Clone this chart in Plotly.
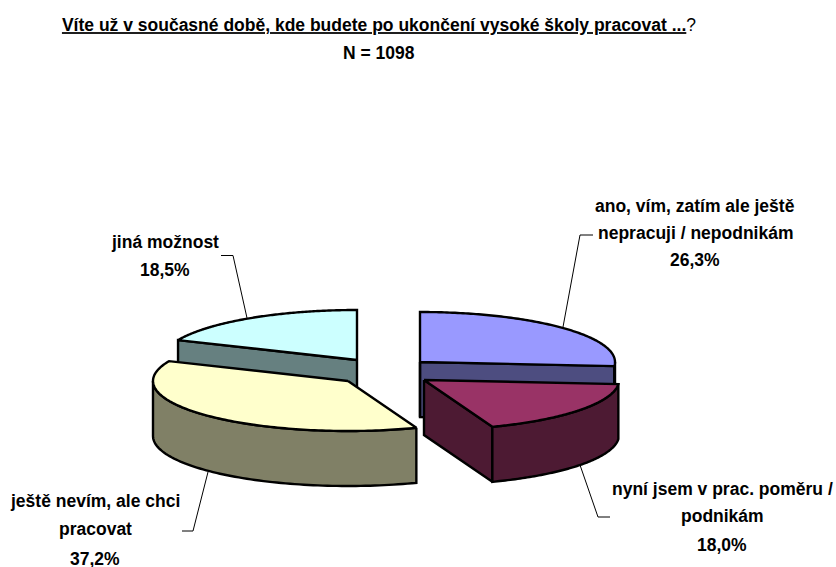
import numpy as np
import plotly.graph_objects as go

# Data
categories = ["ano, vím, zatím ale ještě nepracuji / nepodnikám",
              "nyní jsem v prac. poměru / podnikám",
              "ještě nevím, ale chci pracovat",
              "jiná možnost"]
values = [26.3, 18.0, 37.2, 18.5]
title_main = "Víte už v současné době, kde budete po ukončení vysoké školy pracovat ..."
n_text = "N = 1098"

# Styles and layout
top_colors = ["#9999FF", "#993366", "#FFFFCC", "#CCFFFF"]
side_colors = ["#4D4D80", "#4D1A33", "#808066", "#668080"]
centers = [(420, 362), (424, 380), (348, 381), (357, 360)]
RX, RY, DEPTH = 195, 50, 55
FONT = "Liberation Sans"
FS = 17.5
label_lines = [["ano, vím, zatím ale ještě", "nepracuji / nepodnikám"],
               ["nyní jsem v prac. poměru /", "podnikám"],
               ["ještě nevím, ale chci", "pracovat"],
               ["jiná možnost"]]
label_pos = [(695, [206, 233, 260]), (722, [489, 516, 545]),
             (95, [501, 529, 559]), (165, [242, 270])]
leaders = [[(563, 327), (580, 235), (593, 235)],
           [(580, 465), (598, 517), (610, 517)],
           [(208, 472), (193, 531), (182, 531)],
           [(247, 318), (233, 255.5), (221, 255.5)]]

fig = go.Figure()


def poly(xs, ys, fill):
    fig.add_trace(go.Scatter(x=xs, y=ys, mode="lines", fill="toself", fillcolor=fill,
                             line=dict(color="#000000", width=2.4, simplify=False),
                             hoverinfo="skip", showlegend=False))


def slice_faces(a0, a1, c, top, side):
    cx, cy = c
    ex = lambda a: cx + RX * np.sin(a)
    ey = lambda a: cy - RY * np.cos(a)
    # radial cut faces that look toward the viewer
    for a in (a0, a1):
        normal = a - np.pi / 2 if a == a0 else a + np.pi / 2
        if np.cos(normal) < 0:
            poly([cx, ex(a), ex(a), cx, cx],
                 [cy, ey(a), ey(a) + DEPTH, cy + DEPTH, cy], side)
    # outer wall, front half only
    lo, hi = max(a0, np.pi / 2), min(a1, 3 * np.pi / 2)
    if hi > lo:
        t = np.linspace(lo, hi, 80)
        poly(list(ex(t)) + list(ex(t[::-1])) + [ex(t[0])],
             list(ey(t)) + list(ey(t[::-1]) + DEPTH) + [ey(t[0])], side)
    # back edge of slices touching twelve o'clock
    if a0 == 0:
        poly([cx, cx], [cy, cy + DEPTH], side)
    # top
    t = np.linspace(a0, a1, 120)
    poly([cx] + list(ex(t)) + [cx], [cy] + list(ey(t)) + [cy], top)


edges = np.concatenate([[0], np.cumsum(values)]) / sum(values) * 2 * np.pi
for i in (3, 2, 0, 1):
    slice_faces(edges[i], edges[i + 1], centers[i], top_colors[i], side_colors[i])

for pts in leaders:
    fig.add_trace(go.Scatter(x=[p[0] for p in pts], y=[p[1] for p in pts], mode="lines",
                             line=dict(color="#000000", width=1),
                             hoverinfo="skip", showlegend=False))


def note(x, y, text):
    fig.add_annotation(x=x, y=y, xref="x", yref="y", text=text, showarrow=False,
                       xanchor="center", yanchor="middle",
                       font=dict(family=FONT, size=FS, color="#000000"))


for i, lines in enumerate(label_lines):
    cx, ys = label_pos[i]
    pct = f"{values[i]:.1f}".replace(".", ",") + "%"
    for ln, y in zip(lines + [pct], ys):
        note(cx, y, f"<b>{ln}</b>")

note(379, 53, f"<b>{n_text}</b>")

fig.update_layout(
    width=836, height=567, margin=dict(l=0, r=0, t=0, b=0, pad=0),
    paper_bgcolor="#FFFFFF", plot_bgcolor="#FFFFFF", showlegend=False,
    title=dict(text=f"<b><u>{title_main}</u></b>?", x=379 / 836, xanchor="center",
               y=1 - 25 / 567, yanchor="middle", yref="container",
               font=dict(family=FONT, size=FS, color="#000000")),
    xaxis=dict(range=[0, 836], visible=False, fixedrange=True),
    yaxis=dict(range=[567, 0], visible=False, fixedrange=True),
)
fig.write_html("out.html", config=dict(displayModeBar=False),
               post_script="document.body.style.margin='0';document.documentElement.style.overflow='hidden';")
